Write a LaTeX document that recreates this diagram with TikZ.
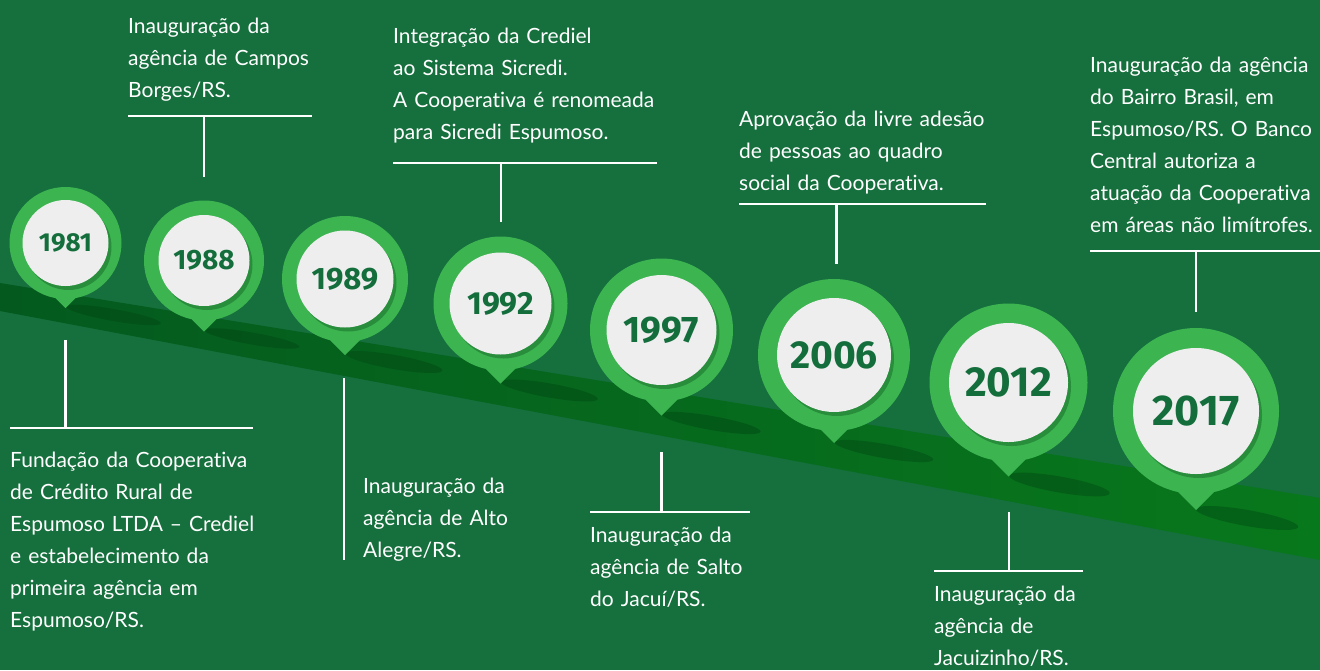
\documentclass[tikz,border=0pt]{standalone}
\usepackage{fontspec}
\setmainfont{Lato}[Ligatures={NoCommon}]
\newfontfamily\yearfont{Fira Sans}
\usetikzlibrary{calc,shadows}
\definecolor{spbg}{RGB}{21,112,61}
\definecolor{spbandl}{RGB}{4,90,30}
\definecolor{spbandr}{RGB}{8,120,28}
\definecolor{spgreen}{RGB}{60,181,81}
\definecolor{spwhite}{RGB}{238,238,238}
\definecolor{spshade}{RGB}{38,138,58}
\definecolor{spyear}{RGB}{20,110,60}
\definecolor{spdark}{RGB}{0,66,18}
\newcommand{\yearsize}[1]{\fontsize{#1}{#1}\selectfont}

\begin{document}
\begin{tikzpicture}[
  x=1pt, y=-1pt,
  pin/.style={fill=spgreen},
  year/.style={circle, fill=spwhite, inner sep=0pt, text=spyear, font=\yearfont\bfseries,
    drop shadow={shadow xshift=3pt, shadow yshift=-4pt, fill=spshade, opacity=.9}},
  dropshade/.style={fill=spdark, opacity=.4},
  rule/.style={draw=white, line width=2.6pt},
  event/.style={anchor=base west, text width=300pt, align=left, inner sep=0pt, text=white, font=\fontsize{21}{32}\selectfont}
]
\useasboundingbox (0,0) rectangle (1320,670);
\fill[spbg] (0,0) rectangle (1320,670);

% Band
\shade[left color=spbandl, right color=spbandr] (0,283) -- (1320,498) -- (1320,560) -- (0,311) -- cycle;

% Pin centres
\coordinate (c1981) at (65.5,243);
\coordinate (c1988) at (204,260.5);
\coordinate (c1989) at (345,279);
\coordinate (c1992) at (500.5,303.5);
\coordinate (c1997) at (661.5,330);
\coordinate (c2006) at (834,355);
\coordinate (c2012) at (1008.5,382.5);
\coordinate (c2017) at (1196,411);

% Shadows on the band
\fill[dropshade] ($(c1981)+(48,72)$) ellipse [x radius=48pt, y radius=6pt, rotate=-10];
\fill[dropshade] ($(c1988)+(48,78)$) ellipse [x radius=48pt, y radius=6pt, rotate=-10];
\fill[dropshade] ($(c1989)+(49,83)$) ellipse [x radius=49pt, y radius=7pt, rotate=-10];
\fill[dropshade] ($(c1992)+(49,87)$) ellipse [x radius=49pt, y radius=7pt, rotate=-10];
\fill[dropshade] ($(c1997)+(50,93)$) ellipse [x radius=50pt, y radius=7pt, rotate=-10];
\fill[dropshade] ($(c2006)+(50,96)$) ellipse [x radius=50pt, y radius=7pt, rotate=-10];
\fill[dropshade] ($(c2012)+(51,102)$) ellipse [x radius=51pt, y radius=8pt, rotate=-10];
\fill[dropshade] ($(c2017)+(51,107)$) ellipse [x radius=52pt, y radius=8pt, rotate=-10];

% Pins
\fill[pin] (c1981) circle[radius=56pt] ($(c1981)+(-14,51)$) -- ($(c1981)+(0,65)$) -- ($(c1981)+(14,51)$) -- cycle;
\node[year, minimum size=86pt] (p1981) at (c1981) {\yearsize{26}1981};
\fill[pin] (c1988) circle[radius=60pt] ($(c1988)+(-18,53)$) -- ($(c1988)+(0,71)$) -- ($(c1988)+(18,53)$) -- cycle;
\node[year, minimum size=91pt] (p1988) at (c1988) {\yearsize{28}1988};
\fill[pin] (c1989) circle[radius=63pt] ($(c1989)+(-21,55)$) -- ($(c1989)+(0,76)$) -- ($(c1989)+(21,55)$) -- cycle;
\node[year, minimum size=97pt] (p1989) at (c1989) {\yearsize{31}1989};
\fill[pin] (c1992) circle[radius=67pt] ($(c1992)+(-21,59)$) -- ($(c1992)+(0,80)$) -- ($(c1992)+(21,59)$) -- cycle;
\node[year, minimum size=102pt] (p1992) at (c1992) {\yearsize{32}1992};
\fill[pin] (c1997) circle[radius=71.5pt] ($(c1997)+(-22,63.5)$) -- ($(c1997)+(0,85.5)$) -- ($(c1997)+(22,63.5)$) -- cycle;
\node[year, minimum size=110pt] (p1997) at (c1997) {\yearsize{37}1997};
\fill[pin] (c2006) circle[radius=76pt] ($(c2006)+(-19,69)$) -- ($(c2006)+(0,88)$) -- ($(c2006)+(19,69)$) -- cycle;
\node[year, minimum size=114pt] (p2006) at (c2006) {\yearsize{39}2006};
\fill[pin] (c2012) circle[radius=79pt] ($(c2012)+(-24,70)$) -- ($(c2012)+(0,94)$) -- ($(c2012)+(24,70)$) -- cycle;
\node[year, minimum size=119pt] (p2012) at (c2012) {\yearsize{42}2012};
\fill[pin] (c2017) circle[radius=83pt] ($(c2017)+(-26,73)$) -- ($(c2017)+(0,99)$) -- ($(c2017)+(26,73)$) -- cycle;
\node[year, minimum size=126pt] (p2017) at (c2017) {\yearsize{43}2017};

% Connectors - below the band
\coordinate (s1981) at (65.5,340);
\coordinate (l1981) at (10,428);
\coordinate (r1981) at (253,428);
\draw[rule] (l1981) -- (r1981) (s1981) -- (s1981 |- l1981);
\coordinate (s1989) at (344,378);
\coordinate (e1989) at (344,560);
\draw[rule] (s1989) -- (e1989);
\coordinate (s1997) at (661.5,452);
\coordinate (l1997) at (590,512);
\coordinate (r1997) at (750,512);
\draw[rule] (l1997) -- (r1997) (s1997) -- (s1997 |- l1997);
\coordinate (s2012) at (1009,512);
\coordinate (l2012) at (934,571);
\coordinate (r2012) at (1083,571);
\draw[rule] (l2012) -- (r2012) (s2012) -- (s2012 |- l2012);

% Connectors - above the band
\coordinate (s1988) at (204,177);
\coordinate (l1988) at (128,116);
\coordinate (r1988) at (312,116);
\draw[rule] (l1988) -- (r1988) (s1988) -- (s1988 |- l1988);
\coordinate (s1992) at (501,222);
\coordinate (l1992) at (393,163);
\coordinate (r1992) at (657,163);
\draw[rule] (l1992) -- (r1992) (s1992) -- (s1992 |- l1992);
\coordinate (s2006) at (836.5,264);
\coordinate (l2006) at (739,204);
\coordinate (r2006) at (986,204);
\draw[rule] (l2006) -- (r2006) (s2006) -- (s2006 |- l2006);
\coordinate (s2017) at (1196,312);
\coordinate (l2017) at (1090,251);
\coordinate (r2017) at (1320,251);
\draw[rule] (l2017) -- (r2017) (s2017) -- (s2017 |- l2017);

% Texts
\node[event] (t1981) at (10,467) {Fundação da Cooperativa\\de Crédito Rural de\\Espumoso LTDA – Crediel\\e estabelecimento da\\primeira agência em\\Espumoso/RS.};
\node[event] (t1988) at (128,33) {Inauguração da\\agência de Campos\\Borges/RS.};
\node[event] (t1989) at (363,493) {Inauguração da\\agência de Alto\\Alegre/RS.};
\node[event] (t1992) at (393,43) {Integração da Crediel\\ao Sistema Sicredi.\\A Cooperativa é renomeada\\para Sicredi Espumoso.};
\node[event] (t1997) at (590,542) {Inauguração da\\agência de Salto\\do Jacuí/RS.};
\node[event] (t2006) at (739,126) {Aprovação da livre adesão\\de pessoas ao quadro\\social da Cooperativa.};
\node[event] (t2012) at (934,601) {Inauguração da\\agência de\\Jacuizinho/RS.};
\node[event] (t2017) at (1090,72.7) {Inauguração da agência\\do Bairro Brasil, em\\Espumoso/RS. O Banco\\Central autoriza a\\atuação da Cooperativa\\em áreas não limítrofes.};

\end{tikzpicture}
\end{document}
